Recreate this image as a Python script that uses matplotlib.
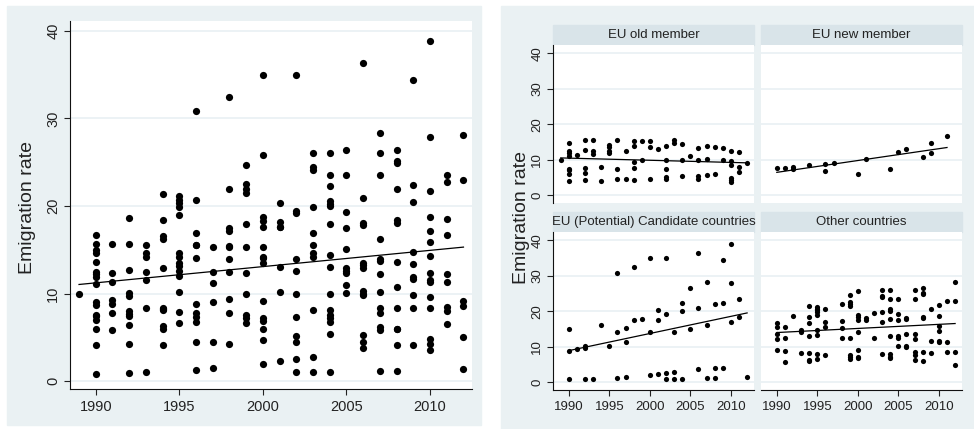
import numpy as np
import matplotlib
matplotlib.use("Agg")
import matplotlib.pyplot as plt
from matplotlib.patches import Rectangle

# emigration rate by year, one dict per country group
eu_old = {
    1989: [9.9],
    1990: [14.6, 12.5, 11.9, 11.1, 7.4, 7.0, 6.0, 4.1],
    1991: [11.3],
    1992: [15.7, 12.7, 7.7, 6.4, 4.2],
    1993: [15.6, 12.5, 11.6],
    1994: [8.1, 4.1],
    1995: [14.2, 13.5, 12.6, 12.0],
    1996: [15.5, 7.3, 4.5],
    1997: [12.5, 4.5],
    1998: [15.4, 13.9, 9.4, 7.8, 4.2],
    1999: [15.3, 9.9],
    2000: [15.3, 13.5, 4.7],
    2001: [13.0],
    2002: [14.0, 10.0, 7.3, 5.1, 4.5],
    2003: [15.6, 14.6],
    2004: [14.4, 9.9, 5.4],
    2005: [11.0],
    2006: [13.3, 10.0, 5.3, 4.5],
    2007: [14.0, 10.2, 5.8],
    2008: [13.6, 6.0],
    2009: [13.4, 9.8],
    2010: [12.4, 9.6, 8.4, 4.8, 4.2, 3.6],
    2011: [12.2, 8.0, 6.5],
    2012: [9.2],
}
eu_new = {
    1990: [7.6], 1991: [7.8], 1992: [8.0, 7.4], 1994: [8.4],
    1996: [8.8, 6.7], 1997: [9.0], 2000: [6.0], 2001: [10.2],
    2004: [7.5], 2005: [12.3], 2006: [12.9], 2008: [10.8],
    2009: [11.9, 14.7], 2011: [16.7],
}
candidates = {
    1990: [15.0, 8.7, 0.8],
    1991: [9.3],
    1992: [10.1, 9.7, 0.9],
    1993: [1.0],
    1994: [16.2],
    1995: [10.2],
    1996: [30.8, 14.1, 1.3],
    1997: [15.3, 11.2, 1.5],
    1998: [32.4, 17.5],
    1999: [17.9],
    2000: [35.0, 14.2, 2.0],
    2001: [20.3, 17.6, 2.3],
    2002: [35.0, 19.2, 2.5, 1.0],
    2003: [14.2, 2.8, 1.0],
    2004: [22.3, 20.2, 1.0],
    2005: [26.4, 15.1],
    2006: [36.3, 20.9, 3.8],
    2007: [28.3, 16.2, 1.2],
    2008: [22.0, 4.1, 1.2],
    2009: [34.4, 22.4, 4.1],
    2010: [38.9, 27.9, 17.1],
    2011: [23.5, 18.5],
    2012: [1.4],
}
other = {
    1990: [16.7, 15.7, 13.6, 12.2, 9.0],
    1991: [15.7, 12.4, 8.8, 5.8],
    1992: [18.6],
    1993: [14.6, 14.2, 8.3],
    1994: [21.4, 18.4, 16.6, 12.9, 8.2, 6.3, 5.9],
    1995: [21.1, 20.7, 20.3, 19.9, 19.0, 14.6, 13.2, 7.9, 6.6],
    1996: [20.7, 16.9, 15.6, 7.8],
    1998: [21.9, 17.2, 15.3, 12.5],
    1999: [24.7, 22.5, 22.0, 21.5, 12.4, 7.6, 7.2, 6.6],
    2000: [25.8, 18.8, 18.3, 17.6, 14.1, 9.1, 7.2, 6.9],
    2001: [18.2, 17.6],
    2002: [19.4, 12.6],
    2003: [26.0, 24.4, 24.1, 19.9, 16.9, 8.1],
    2004: [26.0, 23.5, 20.6, 20.0, 17.9, 13.0, 8.1, 7.2, 6.8],
    2005: [23.5, 19.3, 17.5, 12.9, 12.6, 10.1],
    2006: [18.1, 17.8, 13.5, 10.3, 9.8],
    2007: [26.0, 23.5, 13.7, 12.2, 8.4, 7.8, 6.2],
    2008: [26.4, 25.1, 24.9, 18.4, 18.1, 8.4, 6.0],
    2009: [20.5, 11.7, 8.3],
    2010: [21.7, 18.7, 15.9, 14.3, 11.6, 11.3],
    2011: [22.8, 11.3, 8.5],
    2012: [28.1, 23.0, 8.6, 5.0],
}
groups = [eu_old, eu_new, candidates, other]
group_titles = ["EU old member", "EU new member",
                "EU (Potential) Candidate countries", "Other countries"]
year_ticks = [1990, 1995, 2000, 2005, 2010]
rate_ticks = [0, 10, 20, 30, 40]

bg = "#eaf1f3"
strip = "#d9e4e9"
grid = "#e9f0f3"
plt.rcParams["font.family"] = ["Liberation Sans", "DejaVu Sans"]


def flat(d):
    xs = [y for y, v in d.items() for _ in v]
    ys = [r for v in d.values() for r in v]
    return np.array(xs, float), np.array(ys, float)


W, H = 974, 429
fig = plt.figure(figsize=(W / 100, H / 100), dpi=100)


def box(x0, y0, x1, y1):
    # pixel box (top-down) -> figure fraction
    return [x0 / W, 1 - y1 / H, (x1 - x0) / W, (y1 - y0) / H]


def rect(x0, y0, x1, y1, color):
    l, b, w, h = box(x0, y0, x1, y1)
    fig.patches.append(Rectangle((l, b), w, h, transform=fig.transFigure,
                                 color=color, zorder=-5))


rect(7, 6, 481, 425, bg)
rect(501, 6, 974, 429, bg)


def draw(ax, xs, ys, ms, fs, left=True, bottom=True):
    ax.scatter(xs, ys, s=ms, c="black", linewidths=0, zorder=3)
    b, a = np.polyfit(xs, ys, 1)
    xx = np.array([xs.min(), xs.max()])
    ax.plot(xx, a + b * xx, color="black", lw=0.9, zorder=4)
    ax.set_xticks(year_ticks)
    ax.set_yticks(rate_ticks)
    ax.grid(axis="y", color=grid, lw=1.2)
    ax.set_axisbelow(True)
    for s in ["top", "right"]:
        ax.spines[s].set_visible(False)
    ax.spines["left"].set_visible(left)
    ax.spines["bottom"].set_visible(bottom)
    ax.spines["left"].set_color("#111")
    ax.spines["bottom"].set_color("#111")
    ax.tick_params(axis="y", labelrotation=90, length=4, width=0.8,
                   labelsize=fs, colors="#222", pad=3,
                   left=left, labelleft=left)
    ax.tick_params(axis="x", length=4, width=0.8, labelsize=fs,
                   colors="#222", pad=4, bottom=bottom, labelbottom=bottom)
    for t in ax.get_yticklabels():
        t.set_va("center")


# left panel: all countries
all_x = np.concatenate([flat(g)[0] for g in groups])
all_y = np.concatenate([flat(g)[1] for g in groups])
ax = fig.add_axes(box(70, 21, 472, 389))
draw(ax, all_x, all_y, 27, 10.5)
ax.set_xlim(1988.46, 2012.51)
ax.set_ylim(-0.91, 41.14)
fig.text(27 / W, 1 - 207 / H, "Emigration rate", rotation=90,
         ha="center", va="center", fontsize=14, color="#222")

# right panel: by country group
cells = [(553, 45), (761, 45), (553, 232), (761, 232)]
for i, (g, title, (x0, y0)) in enumerate(zip(groups, group_titles, cells)):
    x1, y1 = x0 + 201, y0 + 158
    rect(x0, y0 - 20, x1, y0, strip)
    fig.text((x0 + x1) / 2 / W, 1 - (y0 - 10) / H, title, ha="center",
             va="center", fontsize=9.5, color="#222")
    xs, ys = flat(g)
    ax = fig.add_axes(box(x0, y0, x1, y1))
    draw(ax, xs, ys, 14, 9.5, left=(i % 2 == 0), bottom=(i >= 2))
    ax.set_xlim(1988.05, 2012.85)
    ax.set_ylim(-2.17, 42.3)

fig.text(521 / W, 1 - 217 / H, "Emigration rate", rotation=90,
         ha="center", va="center", fontsize=14, color="#222")

fig.savefig("out.png", dpi=100, facecolor="white")
